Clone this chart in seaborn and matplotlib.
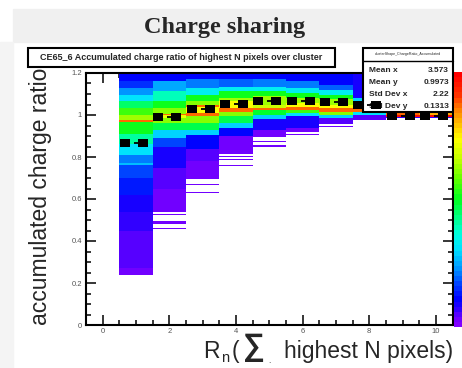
import numpy as np
import matplotlib
matplotlib.use("Agg")
import matplotlib.pyplot as plt
from matplotlib.colors import LinearSegmentedColormap
from matplotlib.markers import MarkerStyle
from matplotlib.patches import Rectangle
from matplotlib.ticker import MultipleLocator, StrMethodFormatter
import seaborn as sns

sns.set_style("ticks")
plt.rcParams['font.family'] = ['Liberation Sans', 'DejaVu Sans']

# x bins: number of highest pixels summed
n_pixels = [1, 2, 3, 4, 5, 6, 7, 8, 9, 10]

# per column: y band edges and colour level (0..1 along the palette), 0 = empty
col1_edges = [0.24, 0.27, 0.36, 0.45, 0.54, 0.62, 0.70, 0.76, 0.77, 0.81, 0.86, 0.91, 0.965, 0.975, 1.00, 1.033, 1.065, 1.097, 1.129, 1.16, 1.2]
col1_levels = [0.02, 0.04, 0.05, 0.07, 0.09, 0.12, 0.17, 0.26, 0.2, 0.3, 0.4, 0.5, 0.86, 0.62, 0.55, 0.44, 0.3, 0.22, 0.15, 0.1]

col2_edges = [0.455, 0.46, 0.48, 0.495, 0.525, 0.53, 0.54, 0.65, 0.75, 0.85, 0.89, 0.93, 0.962, 0.986, 1.0, 1.006, 1.033, 1.065, 1.113, 1.16, 1.2]
col2_levels = [0.02, 0, 0.02, 0, 0.02, 0, 0.03, 0.04, 0.08, 0.16, 0.28, 0.46, 0.6, 0.7, 0.86, 0.6, 0.5, 0.38, 0.24, 0.11]

col3_edges = [0.63, 0.635, 0.665, 0.67, 0.695, 0.78, 0.84, 0.906, 0.93, 0.962, 0.994, 1.008, 1.041, 1.049, 1.065, 1.097, 1.129, 1.168, 1.2]
col3_levels = [0.02, 0, 0.02, 0, 0.03, 0.04, 0.1, 0.28, 0.46, 0.6, 0.86, 0.72, 0.86, 0.6, 0.5, 0.33, 0.2, 0.11]

col4_edges = [0.755, 0.76, 0.785, 0.79, 0.80, 0.805, 0.815, 0.90, 0.938, 0.962, 0.994, 1.017, 1.033, 1.065, 1.081, 1.113, 1.136, 1.168, 1.2]
col4_levels = [0.02, 0, 0.02, 0, 0.02, 0, 0.03, 0.1, 0.28, 0.46, 0.6, 0.86, 0.72, 0.62, 0.5, 0.32, 0.18, 0.11]

col5_edges = [0.85, 0.855, 0.87, 0.875, 0.895, 0.93, 0.978, 1.002, 1.025, 1.035, 1.049, 1.089, 1.113, 1.136, 1.168, 1.2]
col5_levels = [0.02, 0, 0.02, 0, 0.03, 0.08, 0.28, 0.48, 0.86, 0.66, 0.62, 0.5, 0.32, 0.2, 0.11]

col6_edges = [0.905, 0.91, 0.922, 0.938, 0.994, 1.01, 1.025, 1.041, 1.057, 1.081, 1.105, 1.129, 1.16, 1.2]
col6_levels = [0.02, 0, 0.03, 0.08, 0.3, 0.55, 0.86, 0.72, 0.62, 0.5, 0.32, 0.2, 0.11]

col7_edges = [0.945, 0.95, 0.955, 0.986, 1.002, 1.017, 1.033, 1.049, 1.073, 1.097, 1.121, 1.144, 1.2]
col7_levels = [0.02, 0, 0.05, 0.28, 0.6, 0.86, 0.72, 0.62, 0.5, 0.32, 0.18, 0.1]

col8_edges = [0.975, 1.0, 1.015, 1.03, 1.045, 1.08, 1.2]
col8_levels = [0.04, 0.3, 0.86, 0.6, 0.28, 0.08]

col9_edges = [0.985, 0.99, 1.0, 1.01, 1.2]
col9_levels = [0.06, 0.97, 0.86, 0.2]

col10_edges = [0.985, 0.99, 1.0, 1.01, 1.2]
col10_levels = [0.06, 0.97, 0.8, 0.2]

# profile (mean ratio per N)
profile_mean = [0.868, 0.99, 1.03, 1.053, 1.067, 1.067, 1.063, 1.05, 0.997, 0.997]

stat_names = ["Mean x", "Mean y", "Std Dev x", "Std Dev y"]
stat_values = ["3.573", "0.9973", "2.22", "0.1313"]

all_edges = [col1_edges, col2_edges, col3_edges, col4_edges, col5_edges,
             col6_edges, col7_edges, col8_edges, col9_edges, col10_edges]
all_levels = [col1_levels, col2_levels, col3_levels, col4_levels, col5_levels,
              col6_levels, col7_levels, col8_levels, col9_levels, col10_levels]

# fine y binning like the ROOT histogram
y_edges = np.linspace(0, 1.2, 241)
y_mid = (y_edges[:-1] + y_edges[1:]) / 2
x_edges = np.arange(0.5, 11.0, 1.0)

xs, ys, ws = [], [], []
for n, edges, levels in zip(n_pixels, all_edges, all_levels):
    idx = np.digitize(y_mid, edges) - 1
    for y, i in zip(y_mid, idx):
        if 0 <= i < len(levels) and levels[i] > 0:
            xs.append(n)
            ys.append(y)
            ws.append(levels[i])

# ROOT-like rainbow palette
nodes = [(0.00, '#8000ff'), (0.03, '#6a00ff'), (0.06, '#3300ff'), (0.10, '#0000ff'),
         (0.16, '#0040ff'), (0.22, '#0090ff'), (0.30, '#00e0ff'), (0.36, '#00ffe0'),
         (0.42, '#00ff90'), (0.50, '#00ff20'), (0.58, '#60ff00'), (0.66, '#c0ff00'),
         (0.74, '#ffff00'), (0.80, '#ffc000'), (0.86, '#ff8000'), (0.92, '#ff3000'),
         (1.00, '#ff0000')]
cmap = LinearSegmentedColormap.from_list('rootrainbow', nodes, N=50)

W, H = 462, 368
fig = plt.figure(figsize=(W / 100, H / 100), dpi=100)

# slide background
fig.add_artist(Rectangle((13 / W, 1 - 42 / H), (W - 13) / W, 33 / H,
                         transform=fig.transFigure, color='#f0f0f0', zorder=-2))
fig.add_artist(Rectangle((0, 0), 13 / W, 1 - 42 / H,
                         transform=fig.transFigure, color='#f4f4f4', zorder=-2))
fig.text(224.5 / W, 1 - 33.5 / H, "Charge sharing", ha='center', va='baseline',
         family='Liberation Serif', weight='bold', size=17.5)

ax = fig.add_axes([86 / W, 1 - 325 / H, (452.5 - 86) / W, 252 / H])
cax = fig.add_axes([454 / W, 1 - 327 / H, 20 / W, 255 / H])

sns.histplot(x=xs, y=ys, weights=ws, bins=(x_edges, y_edges), cmap=cmap,
             vmin=0, vmax=1, thresh=0, cbar=True, cbar_ax=cax, ax=ax)
cax.set_axis_off()

# profile markers
box = MarkerStyle([(-1, -0.72), (1, -0.72), (1, 0.72), (-1, 0.72)])
px = np.array(n_pixels)
for off in [-0.33, 0.21]:
    sns.scatterplot(x=px + off, y=profile_mean, marker=box, s=55, color='black',
                    linewidth=0, zorder=8, legend=False, ax=ax)
ax.hlines(profile_mean, px - 0.06, px + 0.1, color='black', lw=1.3, zorder=8)

ax.set_xlim(-0.5, 10.5)
ax.set_ylim(0, 1.2)
ax.set_xlabel("")
ax.set_ylabel("")
ax.xaxis.set_major_locator(MultipleLocator(2))
ax.xaxis.set_minor_locator(MultipleLocator(0.5))
ax.yaxis.set_major_locator(MultipleLocator(0.2))
ax.yaxis.set_minor_locator(MultipleLocator(0.05))
ax.yaxis.set_major_formatter(StrMethodFormatter('{x:g}'))
ax.tick_params(which='both', direction='in', top=True, right=True, width=1.1,
               color='black', labelsize=5.5, labelcolor='#555555')
ax.tick_params(which='major', length=7)
ax.tick_params(which='minor', length=3.6)
ax.tick_params(axis='y', pad=3)
ax.tick_params(axis='x', pad=2.5)
for sp in ax.spines.values():
    sp.set_linewidth(1.5)
    sp.set_color('black')

# x title: R_n (sum highest N pixels), pieced together like the ROOT latex
x_base = 1 - 358 / H
fig.text(453 / W, x_base, "highest N pixels)", ha='right', va='baseline', size=16.5)
fig.text(203 / W, x_base, "R", ha='left', va='baseline', size=16.5)
fig.text(221 / W, 1 - 362 / H, "n", ha='left', va='baseline', size=10.5)
fig.text(232 / W, x_base, "(", ha='left', va='baseline', size=16.5)
fig.text(243 / W, 1 - 355.5 / H, "∑", ha='left', va='baseline', size=22, weight='bold')
fig.text(268 / W, 1 - 363 / H, ".", ha='left', va='baseline', size=6)

fig.text(41 / W, 1 - 196 / H, "accumulated charge ratio", rotation=90,
         ha='center', va='center', size=16.5)

# histogram title box
fig.add_artist(Rectangle((28 / W, 1 - 67 / H), 307 / W, 19 / H, transform=fig.transFigure,
                         fc='white', ec='black', lw=1.5))
fig.text(181.5 / W, 1 - 57.5 / H,
         "CE65_6 Accumulated charge ratio of highest N pixels over cluster",
         ha='center', va='center', size=6.5, weight='bold')

# stats box (drawn inside ax so the profile markers stay on top)
ax.add_patch(Rectangle((363 / W, 1 - 112 / H), 90 / W, 64 / H, transform=fig.transFigure,
                       fc='white', ec='black', lw=1.5, clip_on=False, zorder=5))
ax.plot([363 / W, 453 / W], [1 - 61 / H, 1 - 61 / H], transform=fig.transFigure,
        color='black', lw=1.0, clip_on=False, zorder=6)
ax.text(408 / W, 1 - 54.5 / H, "clusterShape_ChargeRatio_Accumulated",
        transform=fig.transFigure, ha='center', va='center', size=2.6, zorder=6)
for i, (name, val) in enumerate(zip(stat_names, stat_values)):
    yb = 1 - (71.5 + 12.3 * i) / H
    ax.text(369 / W, yb, name, transform=fig.transFigure, ha='left', va='baseline',
            size=6, weight='bold', zorder=6)
    ax.text(449 / W, yb, val, transform=fig.transFigure, ha='right', va='baseline',
            size=6, weight='bold', zorder=6)

fig.savefig("out.png", dpi=100)
